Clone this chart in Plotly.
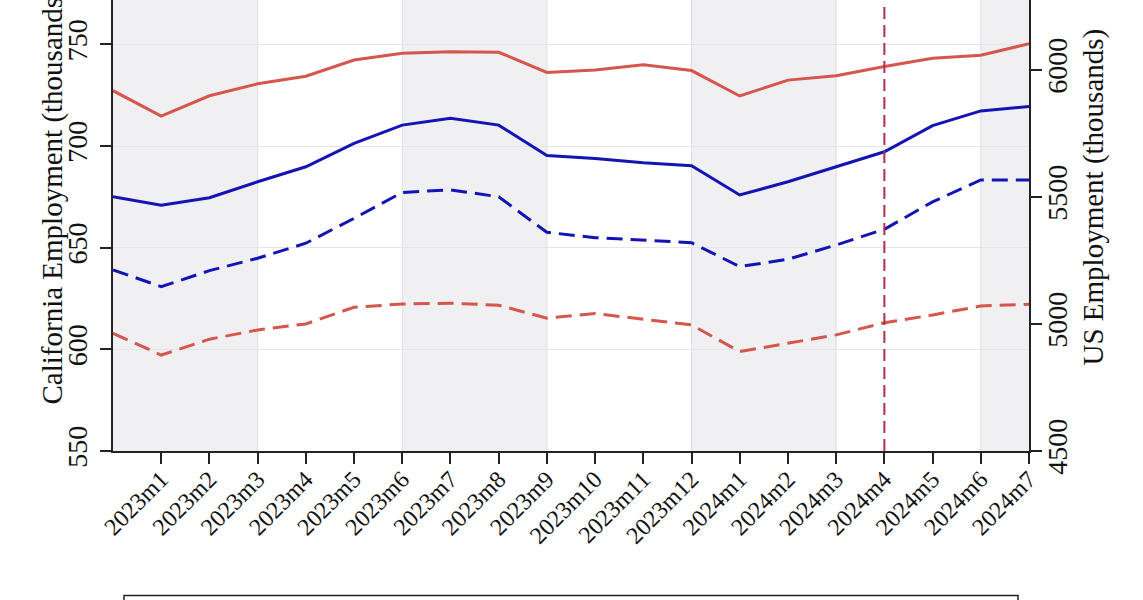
import plotly.graph_objects as go

# ---------------- data ----------------
months = ["2022m12", "2023m1", "2023m2", "2023m3", "2023m4", "2023m5", "2023m6",
          "2023m7", "2023m8", "2023m9", "2023m10", "2023m11", "2023m12",
          "2024m1", "2024m2", "2024m3", "2024m4", "2024m5", "2024m6", "2024m7"]
tick_labels = months[1:]

# California employment (thousands), left axis
ca_solid = [727.2, 714.7, 724.7, 730.6, 734.3, 742.3, 745.6, 746.4, 746.1, 736.2,
            737.4, 740.0, 737.1, 724.6, 732.4, 734.6, 739.1, 743.1, 744.6, 750.3]
ca_dashed = [607.9, 597.2, 605.0, 609.5, 612.5, 620.7, 622.3, 622.7, 621.7, 615.3,
             617.6, 614.9, 612.0, 598.9, 603.0, 607.1, 613.1, 616.9, 621.3, 622.2]
# US employment (thousands), right axis
us_solid = [5501, 5468, 5497, 5560, 5619, 5711, 5783, 5810, 5783, 5663,
            5652, 5635, 5623, 5508, 5560, 5619, 5678, 5781, 5839, 5856]
us_dashed = [5213, 5147, 5210, 5259, 5318, 5416, 5518, 5528, 5501, 5361,
             5340, 5331, 5320, 5226, 5255, 5311, 5373, 5481, 5567, 5567]

shade_starts = ["2022m12", "2023m6", "2023m12", "2024m6"]
shade_len = 3
policy_month = "2024m4"

left_ticks = [550, 600, 650, 700, 750]
right_ticks = [4500, 5000, 5500, 6000]

# ---------------- styling ----------------
RED = "#d4564d"
BLUE = "#1414b4"
FONT = "Liberation Serif"
x = list(range(len(months)))
last = len(months) - 1

fig = go.Figure()
fig.add_trace(go.Scatter(x=x, y=ca_solid, mode="lines", name="CA solid",
                         line=dict(color=RED, width=3), yaxis="y"))
fig.add_trace(go.Scatter(x=x, y=ca_dashed, mode="lines", name="CA dashed",
                         line=dict(color=RED, width=3, dash="16px,8px"), yaxis="y"))
fig.add_trace(go.Scatter(x=x, y=us_solid, mode="lines", name="US solid",
                         line=dict(color=BLUE, width=3), yaxis="y2"))
fig.add_trace(go.Scatter(x=x, y=us_dashed, mode="lines", name="US dashed",
                         line=dict(color=BLUE, width=3, dash="16px,8px"), yaxis="y2"))

shapes = []
for s in shade_starts:
    i0 = months.index(s)
    i1 = min(i0 + shade_len, last)
    shapes.append(dict(type="rect", xref="x", yref="paper", x0=i0, x1=i1, y0=0, y1=1,
                       fillcolor="#f0f0f2", line=dict(width=0), layer="below"))
    for xe in (i0, i0 + shade_len):
        if 0 < xe < last:
            shapes.append(dict(type="line", xref="x", yref="paper", x0=xe, x1=xe, y0=0, y1=1,
                               line=dict(color="#dedee2", width=1), layer="below"))
pi = months.index(policy_month)
shapes.append(dict(type="line", xref="x", yref="y", x0=pi, x1=pi, y0=550, y1=769.5,
                   line=dict(color="#b0304f", width=2, dash="12px,6px"), layer="above"))
# legend frame (cut off at the bottom of the picture)
shapes.append(dict(type="rect", xref="paper", yref="paper", x0=0.012, x1=0.988,
                   y0=-0.3205, y1=-0.5, line=dict(color="#222222", width=1.5),
                   fillcolor="rgba(0,0,0,0)"))

axis_common = dict(ticks="outside", ticklen=11, tickwidth=1.5, tickcolor="#222",
                   showline=True, linecolor="#222", linewidth=1.5, zeroline=False,
                   automargin=False)

fig.update_layout(
    width=1143, height=600,
    margin=dict(l=113, r=114, t=0, b=149, autoexpand=False),
    paper_bgcolor="white", plot_bgcolor="white",
    showlegend=False,
    font=dict(family=FONT, color="#111111"),
    shapes=shapes,
    xaxis=dict(range=[0, last], tickmode="array", tickvals=x[1:], ticktext=tick_labels,
               tickangle=-45, showgrid=False, ticklabelstandoff=-8,
               tickfont=dict(size=24, family=FONT), **axis_common),
    yaxis=dict(range=[550, 771.8], tickmode="array", tickvals=left_ticks, tickangle=-90,
               showgrid=True, gridcolor="#e6e6e8", gridwidth=1,
               tickfont=dict(size=28, family=FONT), ticklabelstandoff=2, **axis_common),
    yaxis2=dict(range=[4500, 6275.6], tickmode="array", tickvals=right_ticks, tickangle=-90,
                overlaying="y", side="right", showgrid=False, ticklabelstandoff=-8,
                tickfont=dict(size=28, family=FONT), **axis_common),
    annotations=[
        dict(text="California Employment (thousands)", textangle=-90, xref="paper", yref="paper",
             x=-61 / 916, y=(451 - 407) / 451, xanchor="center", yanchor="bottom",
             showarrow=False, font=dict(size=29, family=FONT, color="#111")),
        dict(text="US Employment (thousands)", textangle=-90, xref="paper", yref="paper",
             x=(1093 - 113) / 916, y=(451 - 197.5) / 451, xanchor="center", yanchor="middle",
             showarrow=False, font=dict(size=29, family=FONT, color="#111")),
    ],
)

fig.write_html("out.html", config={"displayModeBar": False},
               post_script="document.body.style.margin='0';document.body.style.overflow='hidden';")
